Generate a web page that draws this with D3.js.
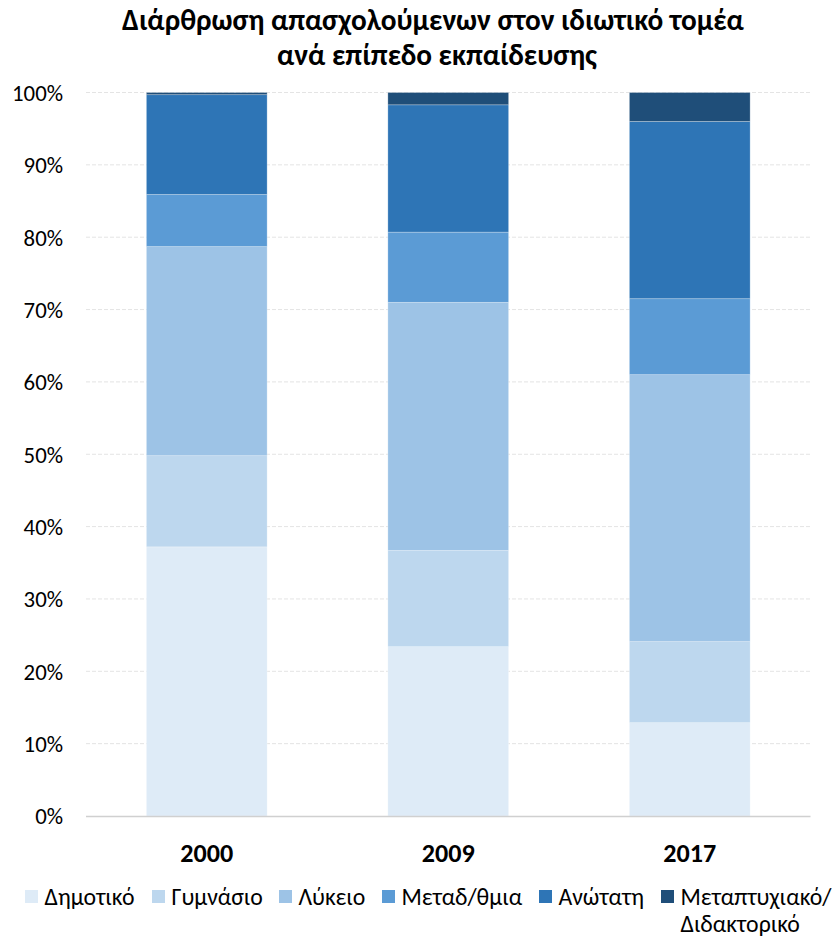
<!DOCTYPE html>
<html>
<head>
<meta charset="utf-8">
<script src="https://cdn.jsdelivr.net/npm/d3@7"></script>
<style>
  html, body { margin: 0; padding: 0; background: #fff; }
  svg { display: block; }
  text { font-family: Carlito, Calibri, "Open Sans", "Noto Sans", sans-serif; fill: #000; }
</style>
</head>
<body>
<svg id="chart" width="834" height="937"></svg>
<script>
const titleLines = ["Διάρθρωση απασχολούμενων στον ιδιωτικό τομέα", "ανά επίπεδο εκπαίδευσης"];
const years = ["2000", "2009", "2017"];
const levels = ["Δημοτικό", "Γυμνάσιο", "Λύκειο", "Μεταδ/θμια", "Ανώτατη", "Μεταπτυχιακό/Διδακτορικό"];
const legendLabels = [["Δημοτικό"], ["Γυμνάσιο"], ["Λύκειο"], ["Μεταδ/θμια"], ["Ανώτατη"], ["Μεταπτυχιακό/", "Διδακτορικό"]];
const colors = ["#DEEBF7", "#BDD7EE", "#9DC3E6", "#5B9BD5", "#2E75B6", "#1F4E79"];
// share (%) per level, one value per year
const dimotiko   = [37.2, 23.4, 12.9];
const gymnasio   = [12.6, 13.3, 11.2];
const lykeio     = [28.9, 34.3, 36.9];
const metadev    = [7.2, 9.7, 10.5];
const anotati    = [13.8, 17.6, 24.5];
const metaptyx   = [0.3, 1.7, 4.0];
const yTicks = [0, 10, 20, 30, 40, 50, 60, 70, 80, 90, 100];

const seriesValues = [dimotiko, gymnasio, lykeio, metadev, anotati, metaptyx];
const table = years.map((y, i) => {
  const row = { year: y };
  levels.forEach((l, k) => row[l] = seriesValues[k][i]);
  return row;
});
const stacked = d3.stack().keys(levels).offset(d3.stackOffsetExpand)(table);

const svg = d3.select("#chart");
const plot = { left: 86, right: 810.5, top: 92.5, bottom: 816 };

const x = d3.scaleBand().domain(years).range([plot.left, plot.right]).paddingInner(0.5).paddingOuter(0.25);
const y = d3.scaleLinear().domain([0, 1]).range([plot.bottom, plot.top]);

function fitText(sel, target) {
  sel.each(function() {
    const fs = parseFloat(this.getAttribute("font-size"));
    const w = this.getComputedTextLength();
    if (w > 0) this.setAttribute("font-size", (fs * target / w).toFixed(2));
  });
}

// gridlines
svg.append("g").selectAll("line").data(yTicks.filter(t => t > 0)).join("line")
  .attr("x1", plot.left).attr("x2", plot.right)
  .attr("y1", d => y(d / 100)).attr("y2", d => y(d / 100))
  .attr("stroke", "#e4e4e4").attr("stroke-width", 1).attr("stroke-dasharray", "4,2");

// bars
const g = svg.append("g");
stacked.forEach((s, k) => {
  g.append("g").attr("fill", colors[k]).selectAll("rect").data(s).join("rect")
    .attr("x", d => x(d.data.year))
    .attr("width", x.bandwidth())
    .attr("y", d => y(d[1]))
    .attr("height", d => y(d[0]) - y(d[1]))
    .attr("stroke", "#ffffff").attr("stroke-opacity", 0.35).attr("stroke-width", 0.75);
});

// baseline axis
svg.append("line").attr("x1", plot.left).attr("x2", plot.right)
  .attr("y1", plot.bottom + 0.5).attr("y2", plot.bottom + 0.5)
  .attr("stroke", "#d0d0d0").attr("stroke-width", 1.5);

// y axis labels
const yAxis = d3.axisLeft(y).tickValues(yTicks.map(t => t / 100)).tickFormat(d3.format(".0%")).tickSize(0).tickPadding(0);
const ya = svg.append("g").attr("transform", `translate(63,0)`).call(yAxis);
ya.select(".domain").remove();
ya.selectAll("text").attr("font-size", 18).attr("font-family", 'Carlito, Calibri, "Open Sans", sans-serif').attr("fill", "#000").attr("dy", "0.35em");
ya.selectAll("text").filter(d => d === 1).call(fitText, 51);
const yfs = ya.selectAll("text").filter(d => d === 1).attr("font-size");
ya.selectAll("text").attr("font-size", yfs);

// x axis labels
const xAxis = d3.axisBottom(x).tickSize(0).tickPadding(0);
const xa = svg.append("g").attr("transform", `translate(0,853)`).call(xAxis);
xa.select(".domain").remove();
xa.selectAll("text").attr("font-size", 20).attr("font-weight", "bold").attr("font-family", 'Carlito, Calibri, "Open Sans", sans-serif').attr("fill", "#000").attr("dy", "0.35em");
xa.selectAll("text").call(fitText, 53);

// title
const t = svg.append("g");
const tl1 = t.append("text").attr("x", 433).attr("y", 30).attr("text-anchor", "middle")
  .attr("font-size", 24).attr("font-weight", "bold").text(titleLines[0]);
tl1.call(fitText, 622);
t.append("text").attr("x", 437).attr("y", 65).attr("text-anchor", "middle")
  .attr("font-size", tl1.attr("font-size")).attr("font-weight", "bold").text(titleLines[1]);

// legend
const legendX = [25, 152, 279, 382, 539, 661];
const lg = svg.append("g");
let legendFs = null;
levels.forEach((l, k) => {
  const item = lg.append("g").attr("transform", `translate(${legendX[k]},890)`);
  item.append("rect").attr("width", 13).attr("height", 13).attr("fill", colors[k]);
  const txt = item.append("text").attr("x", 19.5).attr("y", 6.5).attr("font-size", 18);
  legendLabels[k].forEach((line, j) => {
    txt.append("tspan").attr("x", 19.5).attr("dy", j === 0 ? "0.35em" : 27).text(line);
  });
  if (k === 0) { txt.call(fitText, 90); legendFs = txt.attr("font-size"); }
  else txt.attr("font-size", legendFs);
});
</script>
</body>
</html>
